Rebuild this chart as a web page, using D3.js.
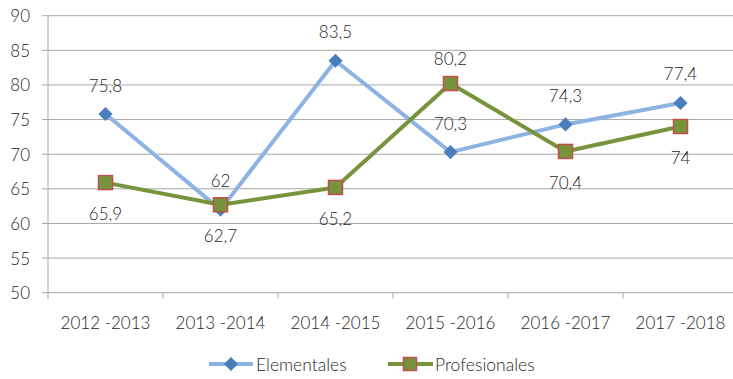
<!DOCTYPE html>
<html>
<head>
<meta charset="utf-8">
<script src="https://cdn.jsdelivr.net/npm/d3@7"></script>
<style>
  html, body { margin: 0; padding: 0; background: #fff; }
  svg { display: block; }
  text { font-family: Lato, "Open Sans", sans-serif; font-weight: 300; fill: #262626; }
</style>
</head>
<body>
<svg id="chart" width="733" height="379"></svg>
<script>
// School years on the horizontal axis
const categories = ["2012 -2013", "2013 -2014", "2014 -2015", "2015 -2016", "2016 -2017", "2017 -2018"];
// Series values
const elementales = [75.8, 62, 83.5, 70.3, 74.3, 77.4];
const profesionales = [65.9, 62.7, 65.2, 80.2, 70.4, 74];
// Where each Profesionales value label sits relative to its marker
const profLabelSide = ["below", "below", "below", "above", "below", "below"];
// Vertical axis ticks
const yTicks = [50, 55, 60, 65, 70, 75, 80, 85, 90];

const svg = d3.select("#chart");
const plotLeft = 48, plotRight = 738, plotTop = 15.7, plotBottom = 292.7;
const fs = 17;

const x = d3.scaleBand().domain(categories).range([plotLeft, plotRight]);
const y = d3.scaleLinear().domain([50, 90]).range([plotBottom, plotTop]);
const cx = c => x(c) + x.bandwidth() / 2;
const fmt = v => String(v).replace(".", ",");

// Horizontal gridlines with small ticks to the left
const grid = svg.append("g");
grid.selectAll("line.g").data(yTicks).join("line")
  .attr("class", "g")
  .attr("x1", plotLeft - 6).attr("x2", plotRight)
  .attr("y1", d => y(d)).attr("y2", d => y(d))
  .attr("stroke", "#a6a6a6").attr("stroke-width", 1);

// Vertical axis line
grid.append("line")
  .attr("x1", plotLeft).attr("x2", plotLeft).attr("y1", plotTop).attr("y2", plotBottom)
  .attr("stroke", "#a6a6a6");

// Category boundary ticks below the baseline
const bounds = categories.map(c => x(c)).concat([plotRight]);
grid.selectAll("line.t").data(bounds).join("line")
  .attr("class", "t")
  .attr("x1", d => d).attr("x2", d => d)
  .attr("y1", plotBottom).attr("y2", plotBottom + 6)
  .attr("stroke", "#a6a6a6");

// Y tick labels
svg.append("g").selectAll("text").data(yTicks).join("text")
  .attr("x", 30).attr("y", d => y(d))
  .attr("text-anchor", "end").attr("dominant-baseline", "central")
  .attr("font-size", fs)
  .text(d => d);

// X tick labels
svg.append("g").selectAll("text").data(categories).join("text")
  .attr("x", d => cx(d)).attr("y", 322)
  .attr("text-anchor", "middle").attr("dominant-baseline", "central")
  .attr("font-size", fs)
  .text(d => d);

const line = d3.line().x((d, i) => cx(categories[i])).y(d => y(d));

const diamond = d3.symbol().type(d3.symbolSquare).size(100);

function drawElementales(g) {
  g.append("path").datum(elementales)
    .attr("d", line).attr("fill", "none")
    .attr("stroke", "#8db3e2").attr("stroke-width", 4).attr("stroke-linejoin", "round");
  g.selectAll("path.m").data(elementales).join("path")
    .attr("class", "m")
    .attr("d", diamond)
    .attr("transform", (d, i) => `translate(${cx(categories[i])},${y(d)}) rotate(45)`)
    .attr("fill", "#4a7ebb");
}

function drawProfesionales(g) {
  g.append("path").datum(profesionales)
    .attr("d", line).attr("fill", "none")
    .attr("stroke", "#77933c").attr("stroke-width", 4).attr("stroke-linejoin", "round");
  g.selectAll("rect").data(profesionales).join("rect")
    .attr("x", (d, i) => cx(categories[i]) - 7)
    .attr("y", d => y(d) - 7)
    .attr("width", 14).attr("height", 14)
    .attr("fill", "#77933c").attr("stroke", "#c0504d").attr("stroke-width", 1.5);
}

drawElementales(svg.append("g"));
drawProfesionales(svg.append("g"));

// Value labels
svg.append("g").selectAll("text").data(elementales).join("text")
  .attr("x", (d, i) => cx(categories[i]))
  .attr("y", d => y(d) - 29)
  .attr("text-anchor", "middle").attr("dominant-baseline", "central")
  .attr("font-size", fs)
  .text(fmt);

svg.append("g").selectAll("text").data(profesionales).join("text")
  .attr("x", (d, i) => cx(categories[i]))
  .attr("y", (d, i) => profLabelSide[i] === "above" ? y(d) - 25 : y(d) + 31)
  .attr("text-anchor", "middle").attr("dominant-baseline", "central")
  .attr("font-size", fs)
  .text(fmt);

// Legend
const legend = svg.append("g");
const ly = 364;
legend.append("line").attr("x1", 209).attr("x2", 253).attr("y1", ly).attr("y2", ly)
  .attr("stroke", "#8db3e2").attr("stroke-width", 4);
legend.append("path").attr("d", diamond)
  .attr("transform", `translate(231,${ly}) rotate(45)`).attr("fill", "#4a7ebb");
legend.append("text").attr("x", 256).attr("y", ly)
  .attr("dominant-baseline", "central").attr("font-size", 17.5).text("Elementales");

legend.append("line").attr("x1", 388).attr("x2", 433).attr("y1", ly).attr("y2", ly)
  .attr("stroke", "#77933c").attr("stroke-width", 4);
legend.append("rect").attr("x", 403.5).attr("y", ly - 6.5).attr("width", 13).attr("height", 13)
  .attr("fill", "#77933c").attr("stroke", "#c0504d").attr("stroke-width", 1.5);
legend.append("text").attr("x", 435).attr("y", ly)
  .attr("dominant-baseline", "central").attr("font-size", 17.5).text("Profesionales");
</script>
</body>
</html>
